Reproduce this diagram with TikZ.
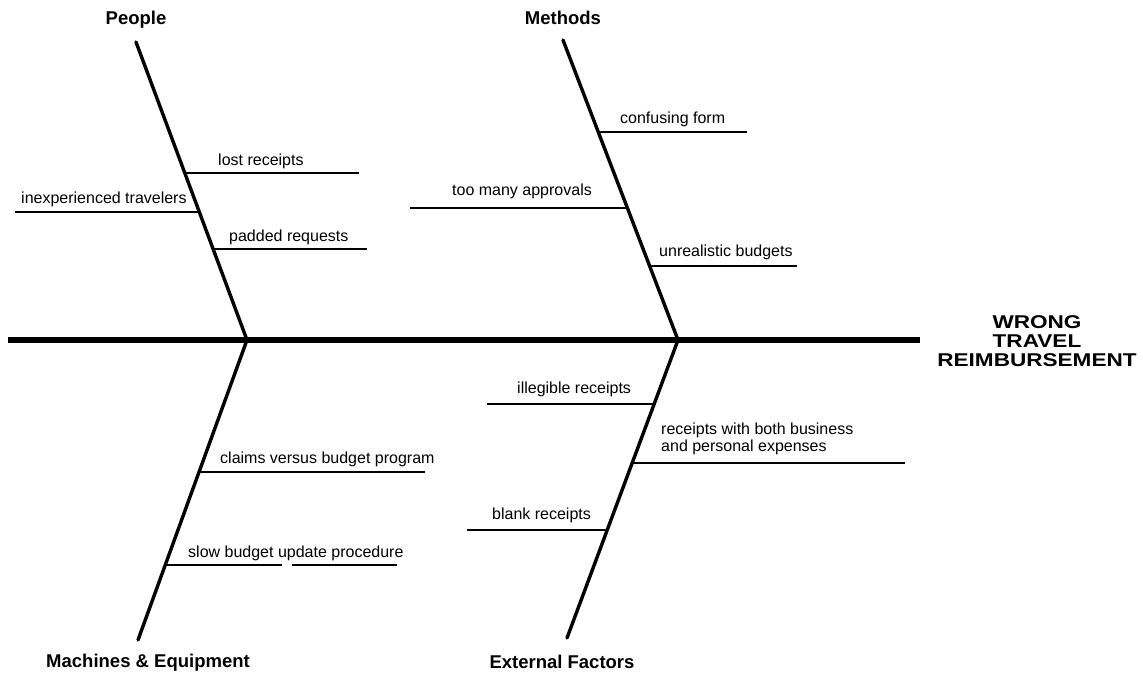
\documentclass[tikz,border=0pt]{standalone}
\usepackage{fontspec}
\setmainfont{Liberation Sans}
\newfontfamily\titlefont[FakeStretch=1.22]{Liberation Sans}
\begin{document}
\begin{tikzpicture}[x=1pt,y=-1pt,
  spine/.style={line width=6pt},
  bone/.style={line width=3.4pt,line cap=round},
  twig/.style={line width=1.8pt},
  cause/.style={anchor=base west,inner sep=0pt,font=\fontsize{16}{18}\selectfont},
  cat/.style={anchor=base,inner sep=0pt,font=\bfseries\fontsize{18.5}{20}\selectfont},
  effect/.style={anchor=base,inner sep=0pt,align=center,font=\titlefont\bfseries\fontsize{18.5}{18.7}\selectfont}]
\useasboundingbox (0,0) rectangle (1143,677);
% spine
\coordinate (s0) at (8,340);
\coordinate (s1) at (920,340);
\draw[spine] (s0) -- (s1);
\node[effect] (eff) at (1037,366) {WRONG\\TRAVEL\\REIMBURSEMENT};
% junctions
\coordinate (jP) at (247,340);
\coordinate (jM) at (678,340);
% bone ends
\coordinate (pT) at (136,42);
\coordinate (mT) at (563,40);
\coordinate (qB) at (138,640);
\coordinate (xB) at (567,638);
\draw[bone] (pT) -- (jP);
\draw[bone] (mT) -- (jM);
\draw[bone] (jP) -- (qB);
\draw[bone] (jM) -- (xB);
% category labels
\node[cat] (lPeople) at (136,25) {People};
\node[cat] (lMethods) at (563,25) {Methods};
\node[cat] (lMach) at (148,667) {Machines \& Equipment};
\node[cat] (lExt) at (562,668) {External Factors};
% People twigs
\coordinate (p1a) at (185,173); \coordinate (p1b) at (359,173);
\coordinate (p2a) at (199,212); \coordinate (p2b) at (15,212);
\coordinate (p3a) at (213,249); \coordinate (p3b) at (367,249);
\draw[twig] (p1a) -- (p1b);
\draw[twig] (p2a) -- (p2b);
\draw[twig] (p3a) -- (p3b);
\node[cause] (t1) at (218,165) {lost receipts};
\node[cause] (t2) at (21,203) {inexperienced travelers};
\node[cause] (t3) at (229,241) {padded requests};
% Methods twigs
\coordinate (m1a) at (598,132); \coordinate (m1b) at (747,132);
\coordinate (m2a) at (627,208); \coordinate (m2b) at (410,208);
\coordinate (m3a) at (650,266); \coordinate (m3b) at (797,266);
\draw[twig] (m1a) -- (m1b);
\draw[twig] (m2a) -- (m2b);
\draw[twig] (m3a) -- (m3b);
\node[cause] (t4) at (620,123) {confusing form};
\node[cause] (t5) at (452,195) {too many approvals};
\node[cause] (t6) at (659,256) {unrealistic budgets};
% Machines twigs
\coordinate (q1a) at (199,472); \coordinate (q1b) at (425,472);
\coordinate (q2a) at (165,565); \coordinate (q2b) at (282,565);
\coordinate (q2c) at (292,565); \coordinate (q2d) at (397,565);
\draw[twig] (q1a) -- (q1b);
\draw[twig] (q2a) -- (q2b);
\draw[twig] (q2c) -- (q2d);
\node[cause] (t7) at (220,463) {claims versus budget program};
\node[cause] (t8) at (188,557) {slow budget update procedure};
% External twigs
\coordinate (x1a) at (654,404); \coordinate (x1b) at (487,404);
\coordinate (x2a) at (632,463); \coordinate (x2b) at (905,463);
\coordinate (x3a) at (607,530); \coordinate (x3b) at (467,530);
\draw[twig] (x1a) -- (x1b);
\draw[twig] (x2a) -- (x2b);
\draw[twig] (x3a) -- (x3b);
\node[cause] (t9) at (517,393) {illegible receipts};
\node[cause,align=left] (t10) at (661,451) {receipts with both business\\[-1pt]and personal expenses};
\node[cause] (t11) at (492,519) {blank receipts};
\end{tikzpicture}
\end{document}
